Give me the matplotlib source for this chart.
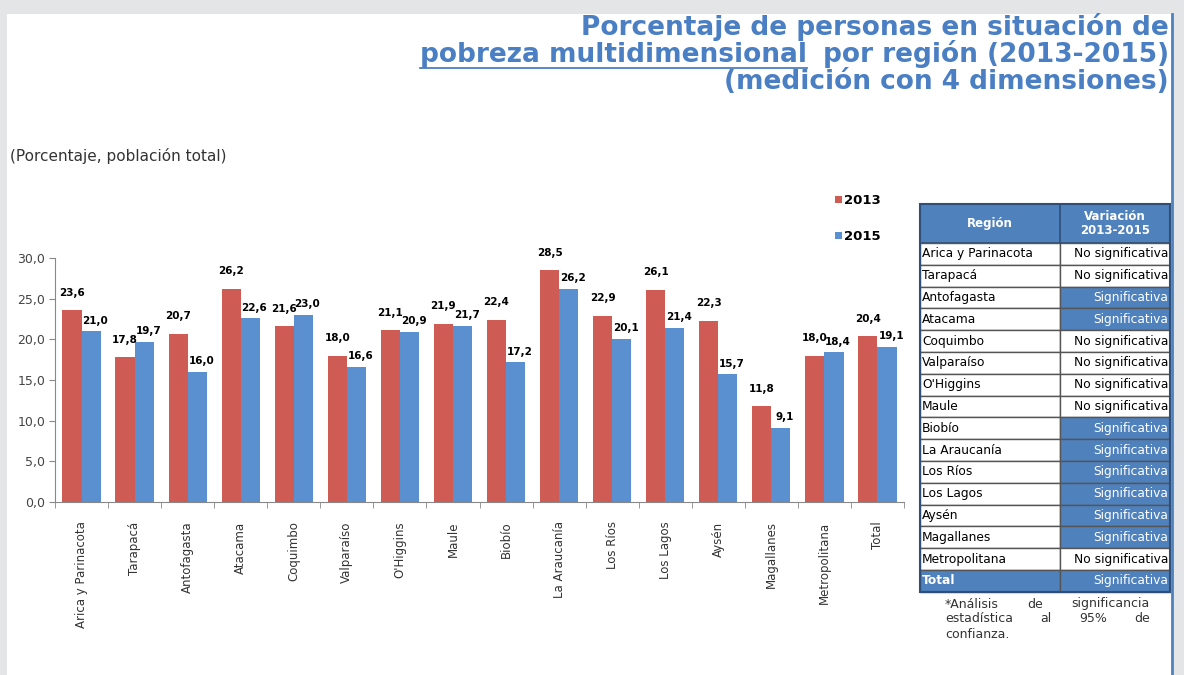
import numpy as np
import matplotlib.pyplot as plt
from matplotlib.patches import Rectangle

# data
regions = ['Arica y Parinacota', 'Tarapacá', 'Antofagasta', 'Atacama', 'Coquimbo',
           'Valparaíso', "O'Higgins", 'Maule', 'Biobío', 'La Araucanía', 'Los Ríos',
           'Los Lagos', 'Aysén', 'Magallanes', 'Metropolitana', 'Total']
v2013 = [23.6, 17.8, 20.7, 26.2, 21.6, 18.0, 21.1, 21.9, 22.4, 28.5, 22.9, 26.1, 22.3, 11.8, 18.0, 20.4]
v2015 = [21.0, 19.7, 16.0, 22.6, 23.0, 16.6, 20.9, 21.7, 17.2, 26.2, 20.1, 21.4, 15.7, 9.1, 18.4, 19.1]
yticks = [0, 5, 10, 15, 20, 25, 30]

table_regions = ['Arica y Parinacota', 'Tarapacá', 'Antofagasta', 'Atacama', 'Coquimbo',
                 'Valparaíso', "O'Higgins", 'Maule', 'Biobío', 'La Araucanía', 'Los Ríos',
                 'Los Lagos', 'Aysén', 'Magallanes', 'Metropolitana', 'Total']
variacion = ['No significativa', 'No significativa', 'Significativa', 'Significativa',
             'No significativa', 'No significativa', 'No significativa', 'No significativa',
             'Significativa', 'Significativa', 'Significativa', 'Significativa',
             'Significativa', 'Significativa', 'No significativa', 'Significativa']
nota = [['*Análisis', 'de', 'significancia'], ['estadística', 'al', '95%', 'de'], ['confianza.']]

RED = '#cf5b55'
BLUE = '#5a8fd0'
HEAD = '#4f81bd'
TITLE = '#4a7fc4'
W, H = 1184, 675

fig = plt.figure(figsize=(W / 100, H / 100), dpi=100)
fig.patch.set_facecolor('#e3e5e7')

# pixel-space canvas for panel, titles and table
bg = fig.add_axes([0, 0, 1, 1])
bg.set_xlim(0, W)
bg.set_ylim(H, 0)
bg.axis('off')
bg.add_patch(Rectangle((7, 14), 1165, H - 14, facecolor='white', edgecolor='none'))
bg.plot([1172, 1172], [14, H], color=HEAD, lw=2)
fig.canvas.draw()
r = fig.canvas.get_renderer()

# title
tkw = dict(color=TITLE, fontsize=19, fontweight='bold', ha='right', va='baseline')
bg.text(1169, 35, 'Porcentaje de personas en situación de', **tkw)
t2 = bg.text(1169, 62, 'por región (2013-2015)', **tkw)
bg.text(1169, 89, '(medición con 4 dimensiones)', **tkw)
bb = t2.get_window_extent(r)
t1 = bg.text(bb.x0 - 16, 62, 'pobreza multidimensional', **tkw)
bb1 = t1.get_window_extent(r)
bg.plot([bb1.x0, bb1.x1], [68, 68], color=TITLE, lw=1.3)

bg.text(10, 156, '(Porcentaje, población total)', fontsize=11, color='#333333',
        ha='left', va='center')

# table
tx0, tx1, tx2 = 920, 1060, 1170
ty0, th_head, row_h = 204, 39, 21.8
bg.add_patch(Rectangle((tx0, ty0), tx2 - tx0, th_head, facecolor=HEAD, edgecolor='#2f4f78', lw=1.2))
bg.plot([tx1, tx1], [ty0, ty0 + th_head], color='#2f4f78', lw=1.2)
bg.text((tx0 + tx1) / 2, ty0 + th_head / 2, 'Región', color='white', fontsize=8.5,
        fontweight='bold', ha='center', va='center')
bg.text((tx1 + tx2) / 2, ty0 + th_head / 2, 'Variación\n2013-2015', color='white',
        fontsize=8.5, fontweight='bold', ha='center', va='center', linespacing=1.0)
for i, (reg, var) in enumerate(zip(table_regions, variacion)):
    y = ty0 + th_head + i * row_h
    total = reg == 'Total'
    sig = var == 'Significativa'
    bg.add_patch(Rectangle((tx0, y), tx1 - tx0, row_h, facecolor=HEAD if total else 'white',
                           edgecolor='#555555', lw=1.0))
    bg.add_patch(Rectangle((tx1, y), tx2 - tx1, row_h, facecolor=HEAD if sig else 'white',
                           edgecolor='#555555', lw=1.0))
    bg.text(tx0 + 2, y + row_h / 2, reg, fontsize=8.8, ha='left', va='center',
            color='white' if total else 'black', fontweight='bold' if total else 'normal')
    bg.text(tx2 - 2, y + row_h / 2, var, fontsize=8.8, ha='right', va='center',
            color='white' if sig else 'black')
bg.add_patch(Rectangle((tx0, ty0), tx2 - tx0, th_head + len(table_regions) * row_h,
                       facecolor='none', edgecolor='#2f4f78', lw=1.5))

# justified footnote
nx0, nx1 = 945, 1150
for j, words in enumerate(nota):
    yy = 604 + j * 15
    if len(words) == 1:
        bg.text(nx0, yy, words[0], fontsize=9, color='#333333', ha='left', va='center')
        continue
    txts = [bg.text(0, yy, w_, fontsize=9, color='#333333', ha='left', va='center') for w_ in words]
    widths = [t.get_window_extent(r).width for t in txts]
    gap = (nx1 - nx0 - sum(widths)) / (len(words) - 1)
    xx = nx0
    for t, wd in zip(txts, widths):
        t.set_x(xx)
        xx += wd + gap

# bar chart
ax = fig.add_axes([55 / W, (H - 502) / H, (904 - 55) / W, 244 / H])
ax.set_facecolor('none')
x = np.arange(len(regions))
bw = 0.36
ax.bar(x - bw / 2, v2013, bw, color=RED, label='2013')
ax.bar(x + bw / 2, v2015, bw, color=BLUE, label='2015')
fmt = lambda v: f'{v:.1f}'.replace('.', ',')
for xi, v in zip(x, v2013):
    ax.annotate(fmt(v), (xi - bw / 2, v), xytext=(0, 9), textcoords='offset points',
                ha='center', va='bottom', fontsize=7.5, fontweight='bold')
for xi, v in zip(x, v2015):
    ax.annotate(fmt(v), (xi + bw / 2, v), xytext=(3, 4), textcoords='offset points',
                ha='center', va='bottom', fontsize=7.5, fontweight='bold')

ax.set_xlim(-0.5, len(regions) - 0.5)
ax.set_ylim(0, 30)
ax.set_yticks(yticks)
ax.set_yticklabels([fmt(v) for v in yticks], fontsize=9, color='#444444')
ax.set_xticks(x)
ax.set_xticklabels(regions, rotation=90, fontsize=8.5, color='#333333')
ax.set_xticks(np.arange(len(regions) + 1) - 0.5, minor=True)
ax.tick_params(axis='x', which='major', length=0, pad=14)
ax.tick_params(axis='x', which='minor', length=4, color='#888888')
ax.tick_params(axis='y', length=4, color='#888888', pad=3)
for s in ['top', 'right']:
    ax.spines[s].set_visible(False)
for s in ['left', 'bottom']:
    ax.spines[s].set_color('#888888')

ax.legend(loc='upper left', bbox_to_anchor=(0.905, 1.31), frameon=False, handlelength=0.5,
          handleheight=0.5, handletextpad=0.2, labelspacing=1.75,
          prop={'size': 9.5, 'weight': 'bold'})

fig.savefig('out.png', dpi=100, facecolor=fig.get_facecolor())
